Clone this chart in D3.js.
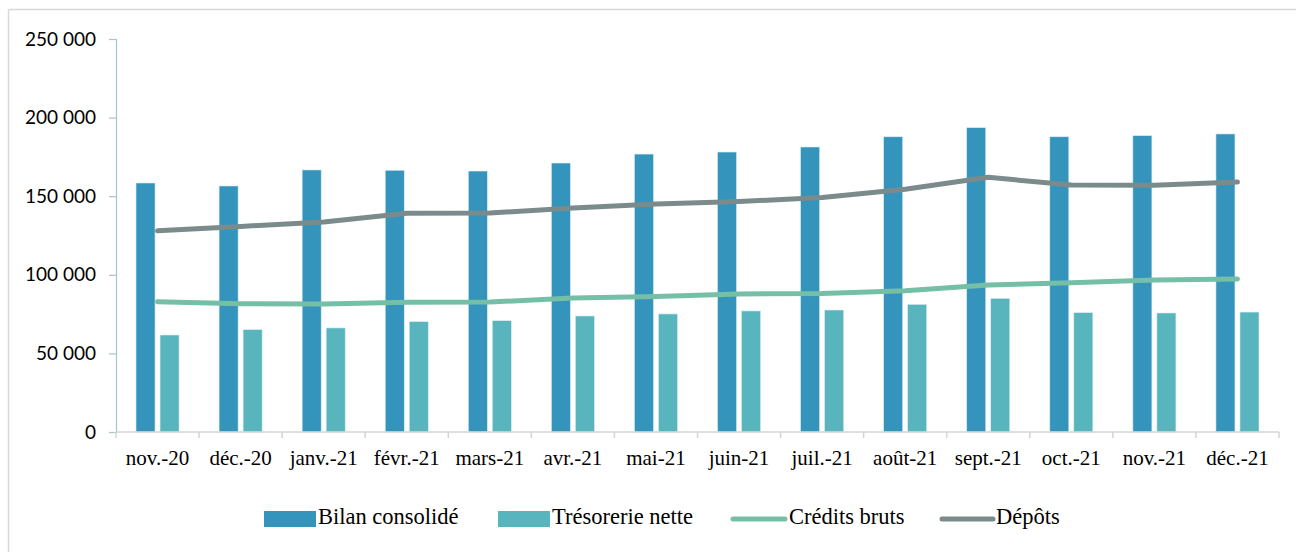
<!DOCTYPE html>
<html>
<head>
<meta charset="utf-8">
<script src="https://cdn.jsdelivr.net/npm/d3@7"></script>
<style>
  html, body { margin: 0; padding: 0; background: #ffffff; }
  svg { display: block; }
</style>
</head>
<body>
<svg id="chart" width="1296" height="552"></svg>
<script>
// Monthly figures (millions)
const months = ["nov.-20", "déc.-20", "janv.-21", "févr.-21", "mars-21", "avr.-21", "mai-21",
                "juin-21", "juil.-21", "août-21", "sept.-21", "oct.-21", "nov.-21", "déc.-21"];
const bilanConsolide = [158400, 156500, 166700, 166500, 166000, 171100, 176800,
                        178100, 181300, 187800, 193600, 187800, 188500, 189600];
const tresorerieNette = [61700, 65100, 66200, 70200, 70800, 73800, 75100,
                         77000, 77600, 81200, 85000, 75900, 75700, 76300];
const creditsBruts = [82900, 81600, 81400, 82500, 82700, 85200, 86200,
                      87800, 88100, 89900, 93500, 95000, 96700, 97300];
const depots = [128000, 130800, 133600, 139100, 139300, 142500, 145000,
                146600, 149200, 154400, 162000, 157100, 157000, 159000];
const yTicks = [0, 50000, 100000, 150000, 200000, 250000];
const legendLabels = ["Bilan consolidé", "Trésorerie nette", "Crédits bruts", "Dépôts"];

const colors = {
  bilan: "#3594bb",
  treso: "#58b5be",
  credits: "#76bfa7",
  depots: "#7b8b8c"
};
const SERIF = "'Liberation Serif', 'Times New Roman', serif";
const SANS = "Lato, 'Liberation Sans', sans-serif";

const svg = d3.select("#chart");

// frame around the chart area (top and left edges visible)
svg.append("line").attr("x1", 8.5).attr("x2", 1296).attr("y1", 9.5).attr("y2", 9.5)
  .attr("stroke", "#d9d9d9").attr("stroke-width", 1.5);
svg.append("line").attr("x1", 8.5).attr("x2", 8.5).attr("y1", 9.5).attr("y2", 552)
  .attr("stroke", "#d9d9d9").attr("stroke-width", 1.5);

const x = d3.scaleBand().domain(months).range([116, 1279]).paddingInner(0).paddingOuter(0);
const sub = d3.scaleBand().domain(["bilan", "treso"]).range([0, x.bandwidth()])
  .paddingInner(0.208).paddingOuter(0.833);
const y = d3.scaleLinear().domain([0, 250000]).range([432, 39]);

const frLocale = d3.formatLocale({ decimal: ",", thousands: " ", grouping: [3], currency: ["", " €"] });
const fmt = frLocale.format(",");

// y axis
const yAxis = svg.append("g").attr("transform", "translate(116,0)")
  .call(d3.axisLeft(y).tickValues(yTicks).tickFormat(fmt).tickSize(7).tickPadding(13));
yAxis.select(".domain").attr("stroke", "#a8c4cf").attr("stroke-width", 1.2);
yAxis.selectAll(".tick line").attr("stroke", "#a8c4cf").attr("stroke-width", 1.2);
yAxis.selectAll(".tick text")
  .style("font-family", SANS)
  .style("font-size", "19px")
  .attr("fill", "#000");

// bars
const barData = months.map((m, i) => ({ m, bilan: bilanConsolide[i], treso: tresorerieNette[i] }));
const groups = svg.append("g").selectAll("g").data(barData).join("g")
  .attr("transform", d => `translate(${x(d.m)},0)`);
groups.selectAll("rect")
  .data(d => [{ k: "bilan", v: d.bilan }, { k: "treso", v: d.treso }])
  .join("rect")
  .attr("x", d => sub(d.k))
  .attr("width", sub.bandwidth())
  .attr("y", d => y(d.v))
  .attr("height", d => y(0) - y(d.v))
  .attr("fill", d => colors[d.k])
  .attr("stroke", "#d7ecf1").attr("stroke-width", 0.6);

// x axis
const xAxisG = svg.append("g").attr("transform", "translate(0,432)");
xAxisG.append("line").attr("x1", 116).attr("x2", 1279).attr("y1", 0).attr("y2", 0)
  .attr("stroke", "#d4d4d4").attr("stroke-width", 1.5);
const edges = months.map(m => x(m)).concat([x(months[months.length - 1]) + x.bandwidth()]);
xAxisG.selectAll("line.tk").data(edges).join("line").attr("class", "tk")
  .attr("x1", d => d).attr("x2", d => d)
  .attr("y1", 0).attr("y2", 6)
  .attr("stroke", "#d4d4d4").attr("stroke-width", 1.5);
xAxisG.selectAll("text").data(months).join("text")
  .attr("x", d => x(d) + x.bandwidth() / 2)
  .attr("y", 33)
  .attr("text-anchor", "middle")
  .style("font-family", SERIF)
  .style("font-size", "21px")
  .attr("fill", "#000")
  .text(d => d);

// lines
const cx = m => x(m) + x.bandwidth() / 2;
const lineGen = d3.line().x((d, i) => cx(months[i])).y(d => y(d));
[[depots, colors.depots], [creditsBruts, colors.credits]].forEach(([vals, c]) => {
  svg.append("path").datum(vals)
    .attr("d", lineGen)
    .attr("fill", "none")
    .attr("stroke", c)
    .attr("stroke-width", 5)
    .attr("stroke-linecap", "round")
    .attr("stroke-linejoin", "round");
});

// legend
const legend = svg.append("g");
const legendItems = [
  { label: legendLabels[0], type: "rect", color: colors.bilan, x0: 264, x1: 316, tx: 318 },
  { label: legendLabels[1], type: "rect", color: colors.treso, x0: 498, x1: 550, tx: 552 },
  { label: legendLabels[2], type: "line", color: colors.credits, x0: 733, x1: 785, tx: 789 },
  { label: legendLabels[3], type: "line", color: colors.depots, x0: 942, x1: 993, tx: 996 }
];
legendItems.forEach(it => {
  if (it.type === "rect") {
    legend.append("rect").attr("x", it.x0).attr("y", 511).attr("width", it.x1 - it.x0).attr("height", 16)
      .attr("fill", it.color);
  } else {
    legend.append("line").attr("x1", it.x0).attr("x2", it.x1).attr("y1", 519).attr("y2", 519)
      .attr("stroke", it.color).attr("stroke-width", 5).attr("stroke-linecap", "round");
  }
  legend.append("text").attr("x", it.tx).attr("y", 524)
    .style("font-family", SERIF)
    .style("font-size", "22.5px")
    .attr("fill", "#000")
    .text(it.label);
});
</script>
</body>
</html>
